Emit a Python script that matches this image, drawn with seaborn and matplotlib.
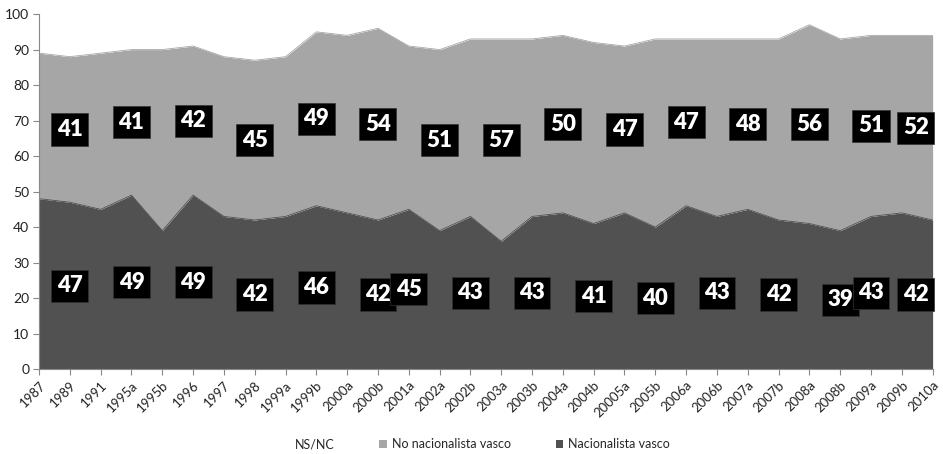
import matplotlib
matplotlib.use("Agg")
import matplotlib.pyplot as plt
from matplotlib.patches import Patch
import numpy as np
import pandas as pd
import seaborn as sns

# Survey waves
waves = ["1987", "1989", "1991", "1995a", "1995b", "1996", "1997", "1998", "1999a",
         "1999b", "2000a", "2000b", "2001a", "2002a", "2002b", "2003a", "2003b",
         "2004a", "2004b", "20005a", "2005b", "2006a", "2006b", "2007a", "2007b",
         "2008a", "2008b", "2009a", "2009b", "2010a"]

# Percentages per wave
nacionalista = [48, 47, 45, 49, 39, 49, 43, 42, 43, 46, 44, 42, 45, 39, 43, 36, 43,
                44, 41, 44, 40, 46, 43, 45, 42, 41, 39, 43, 44, 42]
no_nacionalista = [41, 41, 44, 41, 51, 42, 45, 45, 45, 49, 50, 54, 46, 51, 50, 57, 50,
                   50, 51, 47, 53, 47, 50, 48, 51, 56, 54, 51, 50, 52]
ns_nc = [11, 12, 11, 10, 10, 9, 12, 13, 12, 5, 6, 4, 9, 10, 7, 7, 7,
         6, 8, 9, 7, 7, 7, 7, 7, 3, 7, 6, 6, 6]

# Waves that carry a value label
labelled_nac = [1, 3, 5, 7, 9, 11, 12, 14, 16, 18, 20, 22, 24, 26, 27, 29]
labelled_no_nac = [1, 3, 5, 7, 9, 11, 13, 15, 17, 19, 21, 23, 25, 27, 29]

df = pd.DataFrame({"wave": waves, "pos": np.arange(len(waves)),
                   "nac": nacionalista, "no_nac": no_nacionalista, "nsnc": ns_nc})
df["top_nac"] = df["nac"]
df["top_no_nac"] = df["nac"] + df["no_nac"]

sns.set_theme(style="white")
plt.rcParams["font.family"] = ["Lato", "DejaVu Sans"]

DARK = "#515151"
LIGHT = "#a6a6a6"

fig = plt.figure(figsize=(9.43, 4.54), dpi=100)
ax = fig.add_axes([0.0414, 0.187, 0.9476, 0.782])

ax.stackplot(df["pos"], df["nac"], df["no_nac"], df["nsnc"],
             colors=[DARK, LIGHT, "white"], linewidth=0)
sns.lineplot(data=df, x="pos", y="top_nac", ax=ax, color=DARK, lw=0.6)
sns.lineplot(data=df, x="pos", y="top_no_nac", ax=ax, color=LIGHT, lw=0.6)

box = dict(boxstyle="square,pad=0.25", fc="black", ec="#333333", lw=0.5)
n = len(waves)
for i in labelled_nac:
    xpos = min(i, n - 1.55)
    ax.text(xpos, df["nac"][i] / 2, str(nacionalista[i]), ha="center", va="center",
            color="white", fontsize=16, fontweight="heavy", bbox=box)
for i in labelled_no_nac:
    xpos = min(i, n - 1.55)
    ax.text(xpos, df["nac"][i] + df["no_nac"][i] / 2, str(no_nacionalista[i]),
            ha="center", va="center", color="white", fontsize=16,
            fontweight="heavy", bbox=box)

ax.set_xlim(0, n - 1)
ax.set_ylim(0, 100)
ax.set_yticks(range(0, 101, 10))
ax.set_xticks(df["pos"])
ax.set_xticklabels(waves, rotation=45, ha="right", rotation_mode="anchor",
                   fontsize=9.5, color="#222222")
ax.tick_params(axis="y", labelsize=10, colors="#222222", length=4, width=0.8,
               direction="out", left=True, color="#888888", pad=3)
ax.tick_params(axis="x", length=4, width=0.8, direction="out", bottom=True,
               color="#888888", pad=3)
ax.set_xlabel("")
ax.set_ylabel("")
for side in ["top", "right"]:
    ax.spines[side].set_visible(False)
for side in ["left", "bottom"]:
    ax.spines[side].set_color("#888888")
    ax.spines[side].set_linewidth(0.8)

handles = [Patch(facecolor="white", edgecolor="none", label="NS/NC"),
           Patch(facecolor=LIGHT, edgecolor="none", label="No nacionalista vasco"),
           Patch(facecolor=DARK, edgecolor="none", label="Nacionalista vasco")]
fig.legend(handles=handles, loc="center", bbox_to_anchor=(0.505, 0.022), ncol=3,
           frameon=False, fontsize=9, handlelength=0.6, handleheight=0.6,
           handletextpad=0.4, columnspacing=3.6)

fig.savefig("out.png", dpi=100)
